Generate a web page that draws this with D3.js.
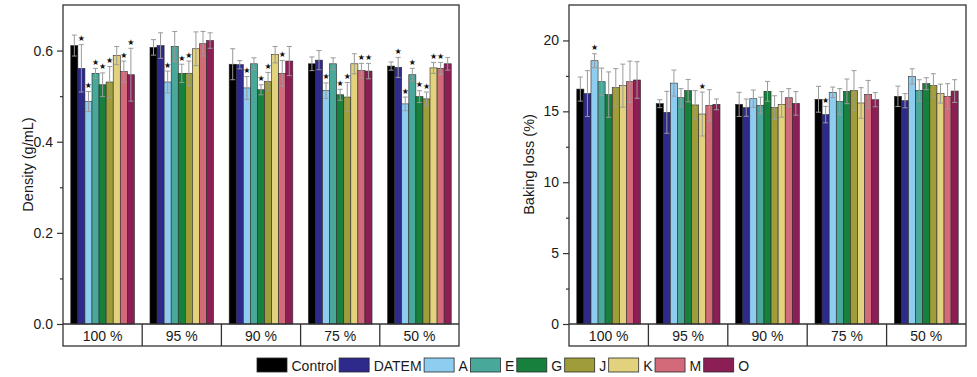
<!DOCTYPE html>
<html>
<head>
<meta charset="utf-8" />
<script src="https://cdn.jsdelivr.net/npm/d3@7"></script>
<style>
  body { margin: 0; background: #fff; }
  svg { display: block; font-family: 'Liberation Sans', Arial, sans-serif; }
</style>
</head>
<body>
<div id="svg-container"></div>
<script>
const groups = ['100 %', '95 %', '90 %', '75 %', '50 %']
const series = ['Control', 'DATEM', 'A', 'E', 'G', 'J', 'K', 'M', 'O']
const seriesColors = [
  '#000000', '#2d2a8c', '#8ecdf0', '#48a99a', '#17803d',
  '#9f9c3a', '#e2d27e', '#d26a79', '#8b1f55',
]

// density (g/mL), rows = groups, cols = series
const densityMean = [
  [0.611, 0.561, 0.488, 0.55, 0.525, 0.531, 0.589, 0.554, 0.547],
  [0.607, 0.611, 0.531, 0.609, 0.55, 0.55, 0.604, 0.615, 0.622],
  [0.57, 0.569, 0.518, 0.571, 0.514, 0.532, 0.591, 0.55, 0.577],
  [0.571, 0.579, 0.512, 0.571, 0.503, 0.498, 0.571, 0.556, 0.555],
  [0.566, 0.563, 0.483, 0.547, 0.499, 0.494, 0.562, 0.561, 0.571],
]
const densitySd = [
  [0.023, 0.052, 0.022, 0.011, 0.026, 0.034, 0.02, 0.023, 0.058],
  [0.017, 0.028, 0.024, 0.033, 0.02, 0.027, 0.037, 0.027, 0.017],
  [0.034, 0.009, 0.025, 0.013, 0.011, 0.02, 0.018, 0.028, 0.032],
  [0.015, 0.021, 0.017, 0.013, 0.012, 0.032, 0.022, 0.016, 0.017],
  [0.009, 0.022, 0.015, 0.014, 0.013, 0.015, 0.012, 0.013, 0.014],
]
const densitySig = [
  [0, 1, 1, 1, 1, 1, 0, 1, 1],
  [0, 0, 1, 0, 1, 1, 0, 0, 0],
  [0, 0, 1, 0, 1, 1, 0, 1, 0],
  [0, 0, 1, 0, 1, 1, 0, 1, 1],
  [0, 1, 1, 1, 1, 1, 1, 1, 0],
]
const densityTicks = [0, 0.2, 0.4, 0.6]
const densityMinorTicks = [0.1, 0.3, 0.5]

// baking loss (%)
const lossMean = [
  [16.57, 16.25, 18.57, 17.09, 16.18, 16.67, 16.81, 17.09, 17.21],
  [15.54, 14.93, 16.99, 15.96, 16.46, 15.45, 14.81, 15.42, 15.49],
  [15.49, 15.26, 15.89, 15.42, 16.41, 15.26, 15.49, 15.96, 15.56],
  [15.85, 14.77, 16.34, 15.7, 16.41, 16.46, 15.59, 16.2, 15.82],
  [16.06, 15.75, 17.46, 16.48, 16.95, 16.81, 16.25, 16.06, 16.43],
]
const lossSd = [
  [0.85, 1.62, 0.49, 0.96, 1.6, 1.34, 1.52, 1.45, 1.29],
  [0.28, 1.48, 0.92, 0.64, 0.79, 1.01, 1.55, 1.11, 0.38],
  [0.85, 0.61, 0.61, 0.58, 0.7, 0.84, 0.9, 0.64, 0.83],
  [0.91, 0.58, 0.37, 0.9, 0.87, 1.41, 1.08, 0.98, 0.5],
  [0.72, 0.5, 0.54, 0.75, 0.42, 0.84, 0.67, 0.89, 0.8],
]
const lossSig = [
  [0, 0, 1, 0, 0, 0, 0, 0, 0],
  [0, 0, 0, 0, 0, 0, 1, 0, 0],
  [0, 0, 0, 0, 0, 0, 0, 0, 0],
  [0, 1, 0, 0, 0, 0, 0, 0, 0],
  [0, 0, 0, 0, 0, 0, 0, 0, 0],
]
const lossTicks = [0, 5, 10, 15, 20]
const lossMinorTicks = [2.5, 7.5, 12.5, 17.5]

const svgWidth = 977
const svgHeight = 377
const plotTop = 5
const plotBase = 324
const plotBottom = 346
const frameColor = '#333'
const errorColor = '#9a9a9a'

const svg = d3
  .select('#svg-container')
  .append('svg')
  .attr('width', svgWidth)
  .attr('height', svgHeight)

const drawPanel = ({
  left,
  right,
  yMax,
  means,
  sds,
  sig,
  ticks,
  minorTicks,
  tickFormat,
  yTitle,
  yTitleX,
}) => {
  const yScale = d3.scaleLinear().domain([0, yMax]).range([plotBase, plotTop])
  const xScale = d3.scaleBand().domain(groups).range([left, right])
  const innerScale = d3
    .scaleBand()
    .domain(series)
    .range([0, xScale.bandwidth()])
    .paddingOuter(1.1)

  const rows = []
  groups.forEach((g, gi) => {
    series.forEach((s, si) => {
      rows.push({
        group: g,
        name: s,
        color: seriesColors[si],
        value: means[gi][si],
        sd: sds[gi][si],
        sig: sig[gi][si],
      })
    })
  })

  const panel = svg.append('g')
  const barX = d => xScale(d.group) + innerScale(d.name)
  const barW = innerScale.bandwidth()

  // bars
  panel
    .append('g')
    .selectAll('rect')
    .data(rows)
    .join('rect')
    .attr('x', barX)
    .attr('y', d => yScale(d.value))
    .attr('width', barW)
    .attr('height', d => plotBase - yScale(d.value))
    .attr('fill', d => d.color)
    .attr('stroke', '#2a2a2a')
    .attr('stroke-width', 0.6)

  // error bars (both directions, caps at ends)
  const err = panel
    .append('g')
    .attr('stroke', errorColor)
    .attr('stroke-width', 1)
    .selectAll('g')
    .data(rows)
    .join('g')
    .attr('transform', d => `translate(${barX(d) + barW / 2}, 0)`)
  err
    .append('line')
    .attr('y1', d => yScale(d.value - d.sd))
    .attr('y2', d => yScale(d.value + d.sd))
  err
    .append('line')
    .attr('x1', -2.5)
    .attr('x2', 2.5)
    .attr('y1', d => yScale(d.value + d.sd))
    .attr('y2', d => yScale(d.value + d.sd))
  err
    .append('line')
    .attr('x1', -2.5)
    .attr('x2', 2.5)
    .attr('y1', d => yScale(d.value - d.sd))
    .attr('y2', d => yScale(d.value - d.sd))

  // significance stars
  panel
    .append('g')
    .selectAll('text')
    .data(rows.filter(d => d.sig))
    .join('text')
    .attr('x', d => barX(d) + barW / 2)
    .attr('y', d => yScale(d.value + d.sd) - 6)
    .attr('text-anchor', 'middle')
    .attr('dominant-baseline', 'central')
    .style('font-family', 'DejaVu Sans')
    .style('font-size', '8px')
    .attr('fill', '#111')
    .text('★')

  // y axis: major + minor ticks
  const yAxis = panel
    .append('g')
    .attr('transform', `translate(${left}, 0)`)
    .call(
      d3
        .axisLeft(yScale)
        .tickValues(ticks)
        .tickFormat(tickFormat)
        .tickSize(6)
        .tickSizeOuter(0)
        .tickPadding(4),
    )
    .call(g => g.select('.domain').remove())
  yAxis
    .selectAll('.tick line')
    .attr('stroke', frameColor)
    .attr('stroke-width', 1.2)
  yAxis
    .selectAll('.tick text')
    .attr('fill', '#1a1a1a')
    .style('font-size', '14px')

  panel
    .append('g')
    .attr('transform', `translate(${left}, 0)`)
    .call(
      d3
        .axisLeft(yScale)
        .tickValues(minorTicks)
        .tickFormat('')
        .tickSize(3)
        .tickSizeOuter(0),
    )
    .call(g => g.select('.domain').remove())
    .call(g =>
      g
        .selectAll('.tick line')
        .attr('stroke', frameColor)
        .attr('stroke-width', 1.2),
    )

  // frame, baseline and category cells
  panel
    .append('rect')
    .attr('x', left)
    .attr('y', plotTop)
    .attr('width', right - left)
    .attr('height', plotBottom - plotTop)
    .attr('fill', 'none')
    .attr('stroke', frameColor)
    .attr('stroke-width', 1.3)
  panel
    .append('line')
    .attr('x1', left)
    .attr('x2', right)
    .attr('y1', plotBase)
    .attr('y2', plotBase)
    .attr('stroke', frameColor)
    .attr('stroke-width', 1.3)
  panel
    .append('g')
    .selectAll('line')
    .data(groups.slice(1))
    .join('line')
    .attr('x1', d => xScale(d))
    .attr('x2', d => xScale(d))
    .attr('y1', plotBase)
    .attr('y2', plotBottom)
    .attr('stroke', frameColor)
    .attr('stroke-width', 1.3)
  panel
    .append('g')
    .selectAll('text')
    .data(groups)
    .join('text')
    .attr('x', d => xScale(d) + xScale.bandwidth() / 2)
    .attr('y', plotBase + 16.5)
    .attr('text-anchor', 'middle')
    .attr('fill', '#1a1a1a')
    .style('font-size', '14px')
    .text(d => d)

  panel
    .append('text')
    .attr('transform', `translate(${yTitleX}, ${(plotTop + plotBase) / 2}) rotate(-90)`)
    .attr('text-anchor', 'middle')
    .attr('dominant-baseline', 'central')
    .attr('fill', '#1a1a1a')
    .style('font-size', '14.5px')
    .text(yTitle)
}

drawPanel({
  left: 63,
  right: 459,
  yMax: 0.7,
  means: densityMean,
  sds: densitySd,
  sig: densitySig,
  ticks: densityTicks,
  minorTicks: densityMinorTicks,
  tickFormat: d3.format('.1f'),
  yTitle: 'Density (g/mL)',
  yTitleX: 28,
})

drawPanel({
  left: 569,
  right: 966,
  yMax: 22.5,
  means: lossMean,
  sds: lossSd,
  sig: lossSig,
  ticks: lossTicks,
  minorTicks: lossMinorTicks,
  tickFormat: d3.format('d'),
  yTitle: 'Baking loss (%)',
  yTitleX: 529,
})

// legend
const legend = svg.append('g').attr('transform', 'translate(257, 358)')
let legendX = 0
series.forEach((s, i) => {
  legend
    .append('rect')
    .attr('x', legendX)
    .attr('y', 0)
    .attr('width', 30)
    .attr('height', 14)
    .attr('fill', seriesColors[i])
    .attr('stroke', '#2a2a2a')
    .attr('stroke-width', 0.8)
  const label = legend
    .append('text')
    .attr('x', legendX + 34.5)
    .attr('y', 7.5)
    .attr('dominant-baseline', 'central')
    .attr('fill', '#1a1a1a')
    .style('font-size', '14px')
    .text(s)
  legendX += 34.5 + label.node().getComputedTextLength() + 2.5
})
</script>
</body>
</html>
